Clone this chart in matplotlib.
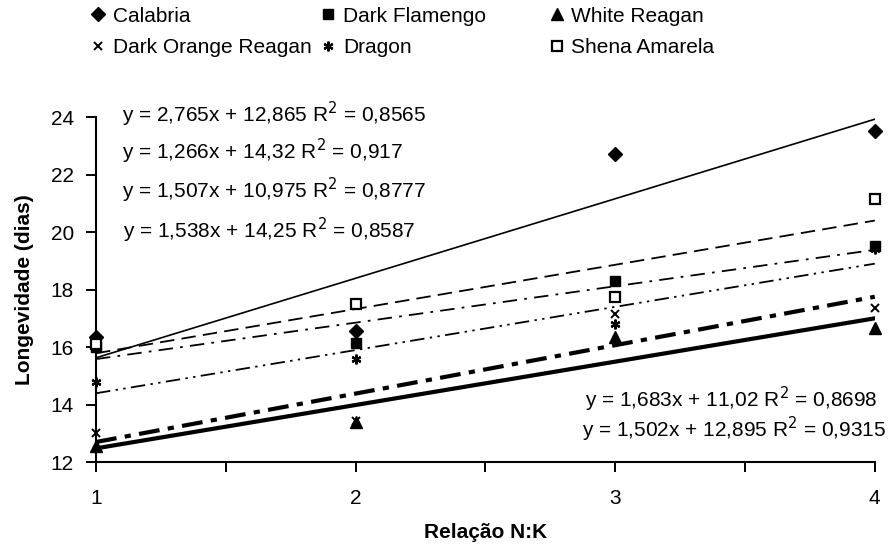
import numpy as np
import matplotlib.pyplot as plt
from matplotlib.lines import Line2D

plt.rcParams['font.family'] = ['Liberation Sans', 'DejaVu Sans']

# Dados
relacao = [1, 2, 3, 4]
calabria = [16.35, 16.55, 22.7, 23.5]
dark_flamengo = [16.0, 16.15, 18.3, 19.5]
white_reagan = [12.55, 13.4, 16.35, 16.65]
dark_orange = [13.0, 13.45, 17.15, 17.35]
dragon = [14.8, 15.6, 16.8, 19.4]
shena = [16.1, 17.5, 17.75, 21.15]

# Linhas de tendência (coeficientes mostrados no gráfico)
nomes = ['Calabria', 'Dark Flamengo', 'White Reagan', 'Dark Orange Reagan', 'Dragon', 'Shena Amarela']
inclinacao = [2.765, 1.266, 1.507, 1.683, 1.502, 1.538]
intercepto = [12.865, 14.32, 10.975, 11.02, 12.895, 14.25]
r2 = ['0,8565', '0,917', '0,8777', '0,8698', '0,9315', '0,8587']

series = [calabria, dark_flamengo, white_reagan, dark_orange, dragon, shena]
marcadores = [
    dict(marker='D', markersize=7, mfc='black', mec='black'),
    dict(marker='s', markersize=7, mfc='black', mec='black'),
    dict(marker='^', markersize=8.5, mfc='black', mec='black'),
    dict(marker='x', markersize=6, mfc='black', mec='black', mew=1.4),
    dict(marker=(6, 2, 0), markersize=7, mfc='black', mec='black', mew=1.6),
    dict(marker='s', markersize=7, mfc='white', mec='black', mew=1.6),
]
estilos = [
    dict(ls='-', lw=1.2),
    dict(ls=(0, (8, 4, 1.5, 4)), lw=1.3),
    dict(ls='-', lw=3.0),
    dict(ls=(0, (5, 2, 1.5, 2)), lw=3.0),
    dict(ls=(0, (8, 3, 1.3, 3, 1.3, 3)), lw=1.3),
    dict(ls=(0, (8, 4)), lw=1.3),
]

fig = plt.figure(figsize=(8.89, 5.47), dpi=100)
ax = fig.add_axes([0.108, 0.155, 0.876, 0.631])

x = np.array(relacao, dtype=float)
for ys, a, b, mk, st in zip(series, inclinacao, intercepto, marcadores, estilos):
    ax.plot(x, a * x + b, color='black', **st, zorder=2)
    ax.plot(x, ys, ls='none', **mk, zorder=3, clip_on=False)

ax.set_xlim(1, 4)
ax.set_ylim(12, 24)
ax.set_xticks([1, 2, 3, 4])
ax.set_xticks([1.5, 2.5, 3.5], minor=True)
ax.set_yticks(range(12, 25, 2))
ax.tick_params(axis='both', which='both', direction='out', length=7, width=1.4, labelsize=15)
ax.tick_params(axis='y', pad=9)
ax.tick_params(axis='x', pad=12)
for s in ['top', 'right']:
    ax.spines[s].set_visible(False)
for s in ['left', 'bottom']:
    ax.spines[s].set_linewidth(1.5)

ax.set_xlabel('Relação N:K', fontsize=15, fontweight='bold', labelpad=11)
ax.set_ylabel('Longevidade (dias)', fontsize=15, fontweight='bold', labelpad=12)

def eq(i):
    a = f'{inclinacao[i]:g}'.replace('.', ',')
    b = f'{intercepto[i]:g}'.replace('.', ',')
    return f'y = {a}x + {b} R$^2$ = {r2[i]}'

# Equações
topo = [0, 1, 2, 5]
ytop = [24.1, 22.8, 21.45, 20.05]
xtop = [1.1, 1.1, 1.1, 1.105]
for i, xt, yt in zip(topo, xtop, ytop):
    ax.text(xt, yt, eq(i), fontsize=15, va='center', ha='left', clip_on=False)
baixo = [3, 4]
ybaixo = [14.2, 13.15]
xbaixo = [4.01, 4.045]
for i, xt, yt in zip(baixo, xbaixo, ybaixo):
    ax.text(xt, yt, eq(i), fontsize=15, va='center', ha='right', clip_on=False)

# Legenda (somente marcadores), três colunas de largura fixa
handles = [Line2D([], [], ls='none', color='black', **mk) for mk in marcadores]
colunas = [[0, 3], [1, 4], [2, 5]]
xcol = [0.101, 0.360, 0.617]
for col, xc in zip(colunas, xcol):
    fig.legend([handles[k] for k in col], [nomes[k] for k in col],
               loc='upper left', bbox_to_anchor=(xc, 0.988), borderaxespad=0,
               borderpad=0, frameon=False, fontsize=15, handletextpad=0.3,
               handlelength=0.8, labelspacing=0.6)

fig.savefig('out.png', dpi=100)
